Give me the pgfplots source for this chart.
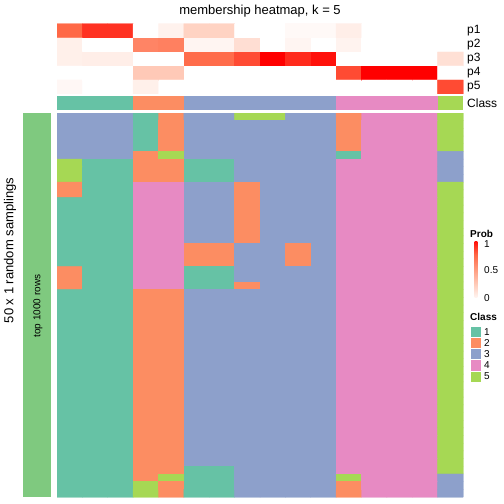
\documentclass[border=0pt]{standalone}
\usepackage{pgfplots}
\usepackage{pgfplotstable}
\pgfplotsset{compat=1.18}
\usepackage{fontspec}
\setmainfont{Liberation Sans}
\definecolor{cA}{HTML}{66C2A5}
\definecolor{cB}{HTML}{FC8D62}
\definecolor{cC}{HTML}{8DA0CB}
\definecolor{cD}{HTML}{E78AC3}
\definecolor{cE}{HTML}{A6D854}
\definecolor{barg}{HTML}{7FC97F}
\definecolor{q1}{RGB}{255,207,190}
\definecolor{q2}{RGB}{255,158,129}
\definecolor{q3}{RGB}{255,104,70}
\pgfdeclareverticalshading{probshade}{12bp}{color(0bp)=(white); color(13.75bp)=(q1); color(27.5bp)=(q2); color(41.25bp)=(q3); color(55bp)=(red)}
\pgfplotsset{
  colormap={classmap}{rgb255=(255,255,255) rgb255=(102,194,165) rgb255=(252,141,98) rgb255=(141,160,203) rgb255=(231,138,195) rgb255=(166,216,84)},
  colormap={probmap}{rgb255=(255,255,255) rgb255=(255,207,190) rgb255=(255,158,129) rgb255=(255,104,70) rgb255=(255,0,0)},
  /pgfplots/table/cellx/.style={x index=0, y index=0, meta index=0, x expr={\coordindex-16*floor((\coordindex+0.5)/16)+1}, y expr={floor((\coordindex+0.5)/16)+1}},
}
% class of each of 16 samples (columns) in each of 50 samplings (rows)
\pgfplotstableread[row sep=\\]{
c\\
3\\3\\3\\1\\2\\3\\3\\5\\5\\3\\3\\2\\4\\4\\4\\5\\
3\\3\\3\\1\\2\\3\\3\\3\\3\\3\\3\\2\\4\\4\\4\\5\\
3\\3\\3\\1\\2\\3\\3\\3\\3\\3\\3\\2\\4\\4\\4\\5\\
3\\3\\3\\1\\2\\3\\3\\3\\3\\3\\3\\2\\4\\4\\4\\5\\
3\\3\\3\\1\\2\\3\\3\\3\\3\\3\\3\\2\\4\\4\\4\\5\\
3\\3\\3\\2\\5\\3\\3\\3\\3\\3\\3\\1\\4\\4\\4\\3\\
5\\1\\1\\2\\2\\1\\1\\3\\3\\3\\3\\4\\4\\4\\4\\3\\
5\\1\\1\\2\\2\\1\\1\\3\\3\\3\\3\\4\\4\\4\\4\\3\\
5\\1\\1\\2\\2\\1\\1\\3\\3\\3\\3\\4\\4\\4\\4\\3\\
2\\1\\1\\4\\4\\3\\3\\2\\3\\3\\3\\4\\4\\4\\4\\5\\
2\\1\\1\\4\\4\\3\\3\\2\\3\\3\\3\\4\\4\\4\\4\\5\\
1\\1\\1\\4\\4\\3\\3\\2\\3\\3\\3\\4\\4\\4\\4\\5\\
1\\1\\1\\4\\4\\3\\3\\2\\3\\3\\3\\4\\4\\4\\4\\5\\
1\\1\\1\\4\\4\\3\\3\\2\\3\\3\\3\\4\\4\\4\\4\\5\\
1\\1\\1\\4\\4\\3\\3\\2\\3\\3\\3\\4\\4\\4\\4\\5\\
1\\1\\1\\4\\4\\3\\3\\2\\3\\3\\3\\4\\4\\4\\4\\5\\
1\\1\\1\\4\\4\\3\\3\\2\\3\\3\\3\\4\\4\\4\\4\\5\\
1\\1\\1\\4\\4\\2\\2\\3\\3\\2\\3\\4\\4\\4\\4\\5\\
1\\1\\1\\4\\4\\2\\2\\3\\3\\2\\3\\4\\4\\4\\4\\5\\
1\\1\\1\\4\\4\\2\\2\\3\\3\\2\\3\\4\\4\\4\\4\\5\\
2\\1\\1\\4\\4\\1\\1\\3\\3\\3\\3\\4\\4\\4\\4\\5\\
2\\1\\1\\4\\4\\1\\1\\3\\3\\3\\3\\4\\4\\4\\4\\5\\
2\\1\\1\\4\\4\\1\\1\\2\\3\\3\\3\\4\\4\\4\\4\\5\\
1\\1\\1\\2\\2\\3\\3\\3\\3\\3\\3\\4\\4\\4\\4\\5\\
1\\1\\1\\2\\2\\3\\3\\3\\3\\3\\3\\4\\4\\4\\4\\5\\
1\\1\\1\\2\\2\\3\\3\\3\\3\\3\\3\\4\\4\\4\\4\\5\\
1\\1\\1\\2\\2\\3\\3\\3\\3\\3\\3\\4\\4\\4\\4\\5\\
1\\1\\1\\2\\2\\3\\3\\3\\3\\3\\3\\4\\4\\4\\4\\5\\
1\\1\\1\\2\\2\\3\\3\\3\\3\\3\\3\\4\\4\\4\\4\\5\\
1\\1\\1\\2\\2\\3\\3\\3\\3\\3\\3\\4\\4\\4\\4\\5\\
1\\1\\1\\2\\2\\3\\3\\3\\3\\3\\3\\4\\4\\4\\4\\5\\
1\\1\\1\\2\\2\\3\\3\\3\\3\\3\\3\\4\\4\\4\\4\\5\\
1\\1\\1\\2\\2\\3\\3\\3\\3\\3\\3\\4\\4\\4\\4\\5\\
1\\1\\1\\2\\2\\3\\3\\3\\3\\3\\3\\4\\4\\4\\4\\5\\
1\\1\\1\\2\\2\\3\\3\\3\\3\\3\\3\\4\\4\\4\\4\\5\\
1\\1\\1\\2\\2\\3\\3\\3\\3\\3\\3\\4\\4\\4\\4\\5\\
1\\1\\1\\2\\2\\3\\3\\3\\3\\3\\3\\4\\4\\4\\4\\5\\
1\\1\\1\\2\\2\\3\\3\\3\\3\\3\\3\\4\\4\\4\\4\\5\\
1\\1\\1\\2\\2\\3\\3\\3\\3\\3\\3\\4\\4\\4\\4\\5\\
1\\1\\1\\2\\2\\3\\3\\3\\3\\3\\3\\4\\4\\4\\4\\5\\
1\\1\\1\\2\\2\\3\\3\\3\\3\\3\\3\\4\\4\\4\\4\\5\\
1\\1\\1\\2\\2\\3\\3\\3\\3\\3\\3\\4\\4\\4\\4\\5\\
1\\1\\1\\2\\2\\3\\3\\3\\3\\3\\3\\4\\4\\4\\4\\5\\
1\\1\\1\\2\\2\\3\\3\\3\\3\\3\\3\\4\\4\\4\\4\\5\\
1\\1\\1\\2\\2\\3\\3\\3\\3\\3\\3\\4\\4\\4\\4\\5\\
1\\1\\1\\2\\2\\3\\3\\3\\3\\3\\3\\4\\4\\4\\4\\5\\
1\\1\\1\\2\\2\\1\\1\\3\\3\\3\\3\\4\\4\\4\\4\\5\\
1\\1\\1\\2\\5\\1\\1\\3\\3\\3\\3\\5\\4\\4\\4\\3\\
1\\1\\1\\5\\2\\1\\1\\3\\3\\3\\3\\2\\4\\4\\4\\3\\
1\\1\\1\\5\\2\\1\\1\\3\\3\\3\\3\\2\\4\\4\\4\\3\\
}\clsdata
% membership probabilities p1..p5 (rows) for 16 samples (columns)
\pgfplotstableread[row sep=\\]{
p\\
0.75\\0.88\\0.88\\0\\0.07\\0.23\\0.23\\0\\0\\0.03\\0.03\\0.09\\0\\0\\0\\0\\
0.08\\0\\0\\0.62\\0.64\\0.05\\0.05\\0.17\\0\\0.05\\0\\0.06\\0\\0\\0\\0\\
0.08\\0.09\\0.09\\0\\0\\0.73\\0.73\\0.82\\1\\0.9\\0.96\\0\\0\\0\\0\\0.16\\
0\\0\\0\\0.28\\0.28\\0\\0\\0\\0\\0\\0\\0.82\\1\\1\\1\\0\\
0.04\\0\\0\\0.08\\0\\0\\0\\0\\0\\0\\0\\0\\0\\0\\0\\0.82\\
}\probdata
\begin{document}
\begin{tikzpicture}
\fill[white] (0pt,0pt) rectangle (504pt,504pt);
\path[use as bounding box] (0pt,0pt) rectangle (504pt,504pt);
% main heatmap
\begin{axis}[at={(57pt,7pt)}, anchor=south west, scale only axis,
  width=406pt, height=384pt, hide axis,
  xmin=0.5, xmax=16.5, ymin=0.5, ymax=50.5, y dir=reverse,
  colormap name=classmap, colormap access=direct]
\addplot[matrix plot*, mesh/cols=16, point meta=explicit] table[cellx] {\clsdata};
\addplot[matrix plot*, mesh/cols=16, point meta=explicit] table[cellx] {\clsdata};
\addplot[matrix plot*, mesh/cols=16, point meta=explicit] table[cellx] {\clsdata};
\end{axis}
% probability annotation p1..p5
\begin{axis}[at={(57pt,410pt)}, anchor=south west, scale only axis,
  width=406pt, height=70pt, hide axis,
  xmin=0.5, xmax=16.5, ymin=0.5, ymax=5.5, y dir=reverse,
  colormap name=probmap, point meta min=0, point meta max=1]
\addplot[matrix plot*, mesh/cols=16, point meta=explicit] table[cellx] {\probdata};
\addplot[matrix plot*, mesh/cols=16, point meta=explicit] table[cellx] {\probdata};
\addplot[matrix plot*, mesh/cols=16, point meta=explicit] table[cellx] {\probdata};
\end{axis}
% class annotation
\begin{axis}[at={(57pt,394pt)}, anchor=south west, scale only axis,
  width=406pt, height=14pt, hide axis,
  xmin=0.5, xmax=16.5, ymin=0, ymax=1]
\addplot[fill=cA, draw=none] coordinates {(0.5,0) (3.5,0) (3.5,1) (0.5,1)} -- cycle;
\addplot[fill=cB, draw=none] coordinates {(3.5,0) (5.5,0) (5.5,1) (3.5,1)} -- cycle;
\addplot[fill=cC, draw=none] coordinates {(5.5,0) (11.5,0) (11.5,1) (5.5,1)} -- cycle;
\addplot[fill=cD, draw=none] coordinates {(11.5,0) (15.5,0) (15.5,1) (11.5,1)} -- cycle;
\addplot[fill=cE, draw=none] coordinates {(15.5,0) (16.5,0) (16.5,1) (15.5,1)} -- cycle;
\end{axis}
% left bar and labels
\fill[barg] (23pt,7pt) rectangle (51pt,391pt);
\node[rotate=90, font=\fontsize{10}{12}\selectfont] at (38pt,198pt) {top 1000 rows};
\node[rotate=90, font=\fontsize{13}{15}\selectfont] at (10pt,253.5pt) {50 x 1 random samplings};
\node[font=\fontsize{13}{15}\selectfont] at (260pt,492.5pt) {membership heatmap, k = 5};
% annotation names
\foreach \t/\yy in {p1/473,p2/459,p3/445,p4/431,p5/417,Class/401}
  \node[anchor=west, inner sep=0pt, font=\fontsize{12}{14}\selectfont] at (467pt,\yy pt) {\t};
% Prob legend
\node[anchor=west, inner sep=0pt, font=\bfseries\fontsize{10}{12}\selectfont] at (470pt,270.5pt) {Prob};
\shade[shading=probshade] (470pt,206pt) rectangle (482pt,262pt);
\foreach \yy in {234,261}{
  \draw[white, line width=0.5pt] (470pt,\yy pt) -- (472pt,\yy pt);
  \draw[white, line width=0.5pt] (480pt,\yy pt) -- (482pt,\yy pt);}
\node[anchor=west, inner sep=0pt, font=\fontsize{10}{12}\selectfont] at (484pt,260pt) {1};
\node[anchor=west, inner sep=0pt, font=\fontsize{10}{12}\selectfont] at (484pt,233.5pt) {0.5};
\node[anchor=west, inner sep=0pt, font=\fontsize{10}{12}\selectfont] at (484pt,206pt) {0};
% Class legend
\node[anchor=west, inner sep=0pt, font=\bfseries\fontsize{10}{12}\selectfont] at (470pt,187.5pt) {Class};
\foreach \c/\k in {cA/1,cB/2,cC/3,cD/4,cE/5}{
  \pgfmathsetmacro{\top}{178-11.2*(\k-1)}
  \fill[\c, draw=white, line width=0.5pt] (470.5pt,\top pt) rectangle (481.7pt,\top pt-11.2pt);
  \node[anchor=west, inner sep=0pt, font=\fontsize{10}{12}\selectfont] at (484pt,\top pt-5.6pt) {\k};}
\end{tikzpicture}
\end{document}
